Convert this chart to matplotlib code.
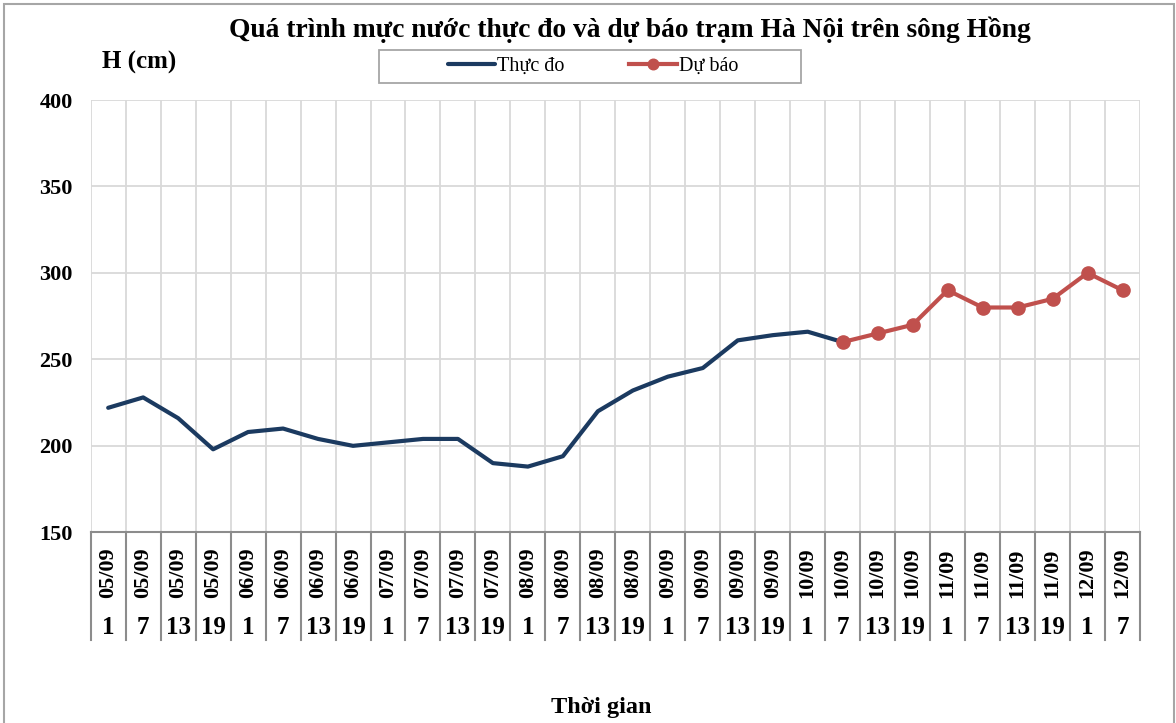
import matplotlib
matplotlib.use("Agg")
import matplotlib.pyplot as plt
from matplotlib.patches import Rectangle
from matplotlib.lines import Line2D
import matplotlib.transforms as mtransforms

# ---- data ----
dates = ["05/09"] * 4 + ["06/09"] * 4 + ["07/09"] * 4 + ["08/09"] * 4 + \
        ["09/09"] * 4 + ["10/09"] * 4 + ["11/09"] * 4 + ["12/09"] * 2
hours = ["1", "7", "13", "19"] * 7 + ["1", "7"]

observed = [222, 228, 216, 198, 208, 210, 204, 200, 202, 204, 204, 190,
            188, 194, 220, 232, 240, 245, 261, 264, 266, 260]
forecast_start = 21
forecast = [260, 265, 270, 290, 280, 280, 285, 300, 290]

title = "Quá trình mực nước thực đo và dự báo trạm Hà Nội trên sông Hồng"
ylabel = "H (cm)"
xlabel = "Thời gian"
legend_labels = ["Thực đo", "Dự báo"]
yticks = [150, 200, 250, 300, 350, 400]

# ---- style ----
W, H = 1176, 723
SERIF = ["Liberation Serif", "DejaVu Serif"]
BLUE = "#1B3A60"
RED = "#C0504D"
GRID = "#D9D9D9"
SEP = "#8C8C8C"

fig = plt.figure(figsize=(W / 100, H / 100), dpi=100)
fig.patch.set_facecolor("white")

def fx(px):
    return px / W

def fy(py):
    return 1 - py / H

left, right, top, bottom = 90.7, 1140, 100, 532.3
ax = fig.add_axes([fx(left), fy(bottom), fx(right - left), (bottom - top) / H])

n = len(dates)
x_obs = list(range(len(observed)))
x_fc = list(range(forecast_start, forecast_start + len(forecast)))

ax.plot(x_obs, observed, color=BLUE, lw=3.0, solid_capstyle="round",
        solid_joinstyle="round", zorder=3, label=legend_labels[0])
ax.plot(x_fc, forecast, color=RED, lw=3.0, marker="o", markersize=9.5,
        solid_joinstyle="round", zorder=4, label=legend_labels[1])

ax.set_xlim(-0.5, n - 0.5)
ax.set_ylim(150, 400)
ax.set_yticks(yticks)
ax.set_yticklabels([str(v) for v in yticks], fontfamily=SERIF,
                   fontweight="bold", fontsize=16)
ax.tick_params(axis="y", length=0, pad=13)
ax.set_xticks([])

# grid
for v in yticks[1:]:
    ax.axhline(v, color=GRID, lw=1.3, zorder=1)
for i in range(n + 1):
    ax.axvline(i - 0.5, color=GRID, lw=1.3, zorder=1)
for s in ["top", "left", "right"]:
    ax.spines[s].set_visible(False)
ax.spines["bottom"].set_color(SEP)
ax.spines["bottom"].set_linewidth(1.5)

# category table below axis
trans = mtransforms.blended_transform_factory(ax.transData, ax.transAxes)
h_ax = bottom - top
sep_bottom = -(640 - bottom) / h_ax
for i in range(n + 1):
    ax.add_line(Line2D([i - 0.5, i - 0.5], [0, sep_bottom], transform=trans,
                       color=SEP, lw=1.5, clip_on=False))
y_date = -(573 - bottom) / h_ax
y_hour = -(628 - bottom) / h_ax
for i in range(n):
    ax.text(i, y_date, dates[i], transform=trans, rotation=90, ha="center",
            va="center", fontfamily=SERIF, fontweight="bold", fontsize=16)
    ax.text(i, y_hour, hours[i], transform=trans, ha="center", va="center",
            fontfamily=SERIF, fontweight="bold", fontsize=18)

# texts
fig.text(fx(630), fy(30), title, ha="center", va="center", fontfamily=SERIF,
         fontweight="bold", fontsize=19.8)
fig.text(fx(139), fy(62), ylabel, ha="center", va="center", fontfamily=SERIF,
         fontweight="bold", fontsize=18)
fig.text(fx(601), fy(708), xlabel, ha="center", va="center", fontfamily=SERIF,
         fontweight="bold", fontsize=17.5)

# legend
lx0, ly0, lx1, ly1 = 379, 50, 801, 83
fig.patches.append(Rectangle((fx(lx0), fy(ly1)), fx(lx1 - lx0), (ly1 - ly0) / H,
                             transform=fig.transFigure, facecolor="white",
                             edgecolor="#A6A6A6", lw=1.3))
leg = fig.legend(loc="center", bbox_to_anchor=(fx(593), fy(66.5)), ncol=2,
                 frameon=False, prop={"family": SERIF, "size": 14.5},
                 handlelength=2.35, handletextpad=0.1, columnspacing=3.2,
                 borderpad=0.0, markerscale=0.8)

# outer border
fig.patches.append(Rectangle((fx(4), fy(740)), fx(1170), 736 / H,
                             transform=fig.transFigure, facecolor="none",
                             edgecolor="#A6A6A6", lw=1.5, clip_on=False))

fig.savefig("out.png", dpi=100)
